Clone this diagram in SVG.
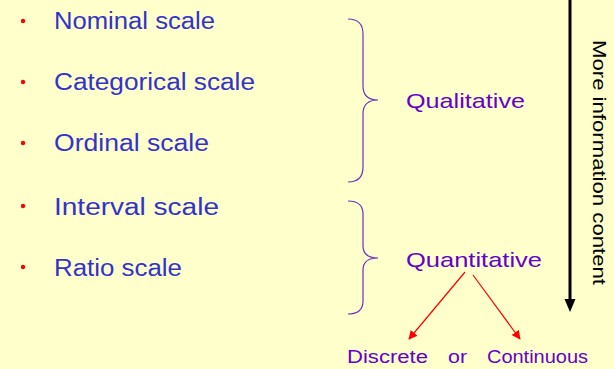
<svg xmlns="http://www.w3.org/2000/svg" width="614" height="369" viewBox="0 0 614 369">
<defs>
<style>
.item{font-family:"Comic Sans MS","Liberation Sans",sans-serif;font-size:23px;fill:#3333CC}
.bul{fill:#FF0000}
.brace{fill:none;stroke:#7030C0;stroke-width:1.2}
.cat{font-family:"Comic Sans MS","Liberation Sans",sans-serif;font-size:21px;fill:#6600CC}
.sub{font-family:"Comic Sans MS","Liberation Sans",sans-serif;font-size:18px;fill:#6600CC}
.side{font-family:"Comic Sans MS","Liberation Sans",sans-serif;font-size:19px;fill:#000}
.red{stroke:#FF0000;stroke-width:1.2;fill:none}
</style>
<marker id="ra" viewBox="0 0 10 10" refX="9" refY="5" markerWidth="9" markerHeight="9" markerUnits="userSpaceOnUse" orient="auto">
<path d="M0,0 L10,5 L0,10 Z" fill="#FF0000"/>
</marker>
</defs>
<rect width="614" height="369" fill="#FFFFCC"/>
<g id="nominal"><circle class="bul" cx="23" cy="21" r="2.2"/><text class="item" x="54" y="29" textLength="161" lengthAdjust="spacingAndGlyphs">Nominal scale</text></g>
<g id="categorical"><circle class="bul" cx="23" cy="82" r="2.2"/><text class="item" x="54" y="90" textLength="201" lengthAdjust="spacingAndGlyphs">Categorical scale</text></g>
<g id="ordinal"><circle class="bul" cx="23" cy="143" r="2.2"/><text class="item" x="54" y="151" textLength="155" lengthAdjust="spacingAndGlyphs">Ordinal scale</text></g>
<g id="interval"><circle class="bul" cx="23" cy="206" r="2.2"/><text class="item" x="54" y="215" textLength="165" lengthAdjust="spacingAndGlyphs">Interval scale</text></g>
<g id="ratio"><circle class="bul" cx="23" cy="267" r="2.2"/><text class="item" x="54" y="276" textLength="128" lengthAdjust="spacingAndGlyphs">Ratio scale</text></g>
<g id="qualitative">
<path class="brace" d="M348,19 Q363,19 363,34 L363,86 Q363,100 378,100 Q363,100 363,114 L363,167 Q363,182 348,182"/>
<text class="cat" x="406" y="108" textLength="119" lengthAdjust="spacingAndGlyphs">Qualitative</text>
</g>
<g id="quantitative">
<path class="brace" d="M348,201 Q363,201 363,214 L363,246 Q363,258 378,258 Q363,258 363,270 L363,301 Q363,314 348,314"/>
<text class="cat" x="406" y="267" textLength="136" lengthAdjust="spacingAndGlyphs">Quantitative</text>
</g>
<g id="discrete"><text class="sub" x="347" y="363" textLength="81" lengthAdjust="spacingAndGlyphs">Discrete</text></g>
<g id="or"><text class="sub" x="448" y="363" textLength="19" lengthAdjust="spacingAndGlyphs">or</text></g>
<g id="continuous"><text class="sub" x="487" y="363" textLength="101" lengthAdjust="spacingAndGlyphs">Continuous</text></g>
<g id="info">
<text class="side" transform="translate(593,40) rotate(90)" x="0" y="0" textLength="245" lengthAdjust="spacingAndGlyphs">More information content</text>
</g>
<g id="connectors">
<line x1="570" y1="0" x2="570" y2="300" stroke="#000" stroke-width="3"/>
<path d="M564.5,299 L575.5,299 L570,312 Z" fill="#000"/>
<line class="red" x1="465" y1="272" x2="409" y2="339" marker-end="url(#ra)"/>
<line class="red" x1="473" y1="275" x2="520" y2="339" marker-end="url(#ra)"/>
</g>
</svg>
